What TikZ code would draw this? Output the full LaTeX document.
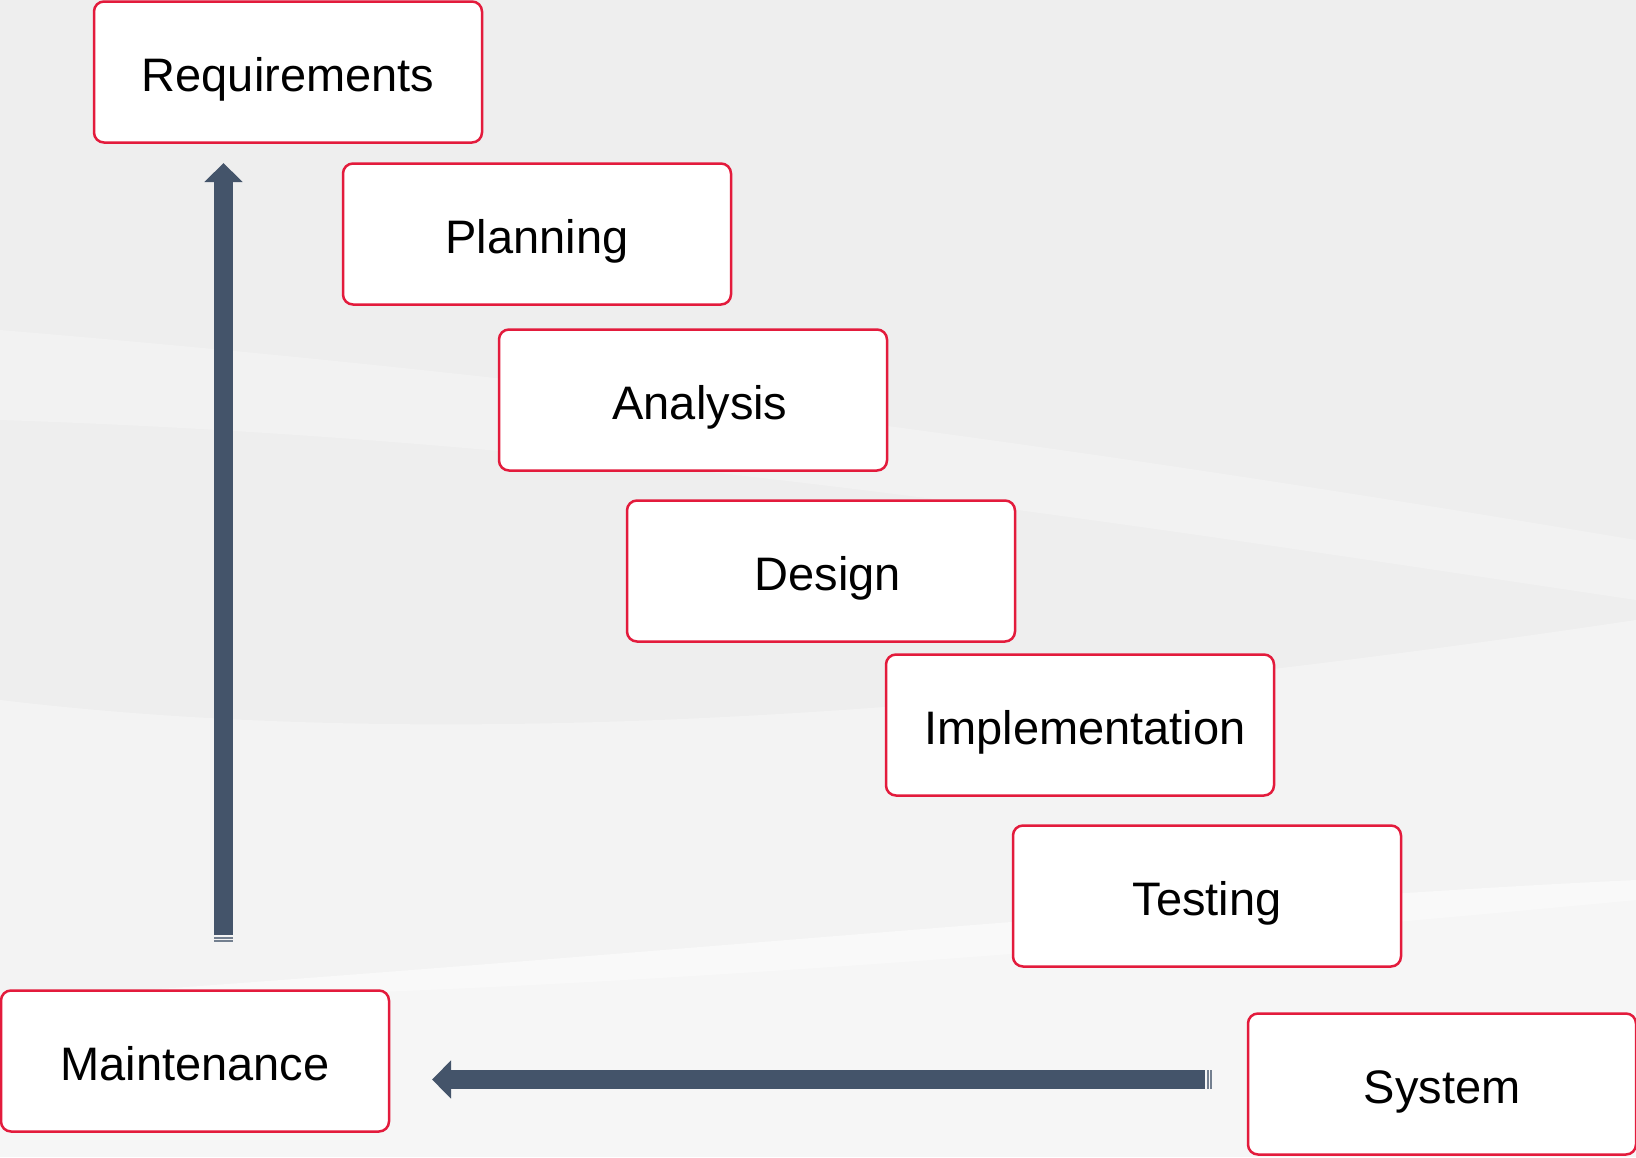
\documentclass[tikz,border=0pt]{standalone}
\usepackage{fontspec}
\setmainfont{Liberation Sans}
\usetikzlibrary{arrows.meta}

\definecolor{boxred}{HTML}{E31B3C}
\definecolor{arrowc}{HTML}{44546A}
\definecolor{bgc}{HTML}{EEEEEE}

\tikzset{
    phase/.style={draw=boxred, line width=2.5pt, fill=white, rounded corners=10pt,
        minimum width=388pt, minimum height=141pt, inner sep=0pt,
        text height=39pt, text depth=0pt,
        font=\fontsize{47}{56}\selectfont},
    flow/.style={draw=arrowc, line width=19pt, -{Triangle[length=19pt,width=37pt]}},
    stripe/.style={fill=arrowc!75}
}

\begin{document}
\begin{tikzpicture}[x=1pt,y=-1pt]
        \useasboundingbox (0,0) rectangle (1636,1157);
        \fill[bgc] (0,0) rectangle (1636,1157);
        % light swooshes in the background
        \fill[white,opacity=0.35] (0,700) .. controls (500,760) and (1100,700) .. (1636,620)
            -- (1636,900) .. controls (1100,950) and (500,1000) .. (0,1000) -- cycle;
        \fill[white,opacity=0.5] (0,1000) .. controls (600,960) and (1200,900) .. (1636,880)
            -- (1636,1157) -- (0,1157) -- cycle;
        \fill[white,opacity=0.25] (0,330) .. controls (600,380) and (1100,450) .. (1636,540)
            -- (1636,600) .. controls (1100,520) and (600,440) .. (0,420) -- cycle;

        \node[phase] (req) at (288,72) {Requirements};
        \node[phase] (plan) at (537,234) {Planning};
        \node[phase] (ana) at (693,400) {\hspace{14pt}Analysis};
        \node[phase] (des) at (821,571) {\hspace{14pt}Design};
        \node[phase] (impl) at (1080,725) {\hspace{10pt}Implementation};
        \node[phase] (test) at (1207,896) {Testing};
        \node[phase] (maint) at (195,1061) {Maintenance};
        \node[phase] (sys) at (1442,1084) {System};

        \coordinate (upTail) at (223.5,935);
        \coordinate (upTip) at (223.5,163);
        \coordinate (leftTail) at (1205,1079.5);
        \coordinate (leftTip) at (432,1079.5);

        \draw[flow] (upTail) -- (upTip);
        \draw[flow] (leftTail) -- (leftTip);

        % stripes at the tails
        \fill[stripe] (214,937) rectangle (233,938.5);
        \fill[stripe] (214,940) rectangle (233,941.5);
        \fill[stripe] (1207,1070) rectangle (1208.5,1089);
        \fill[stripe] (1210,1070) rectangle (1211.5,1089);
    \end{tikzpicture}
\end{document}
